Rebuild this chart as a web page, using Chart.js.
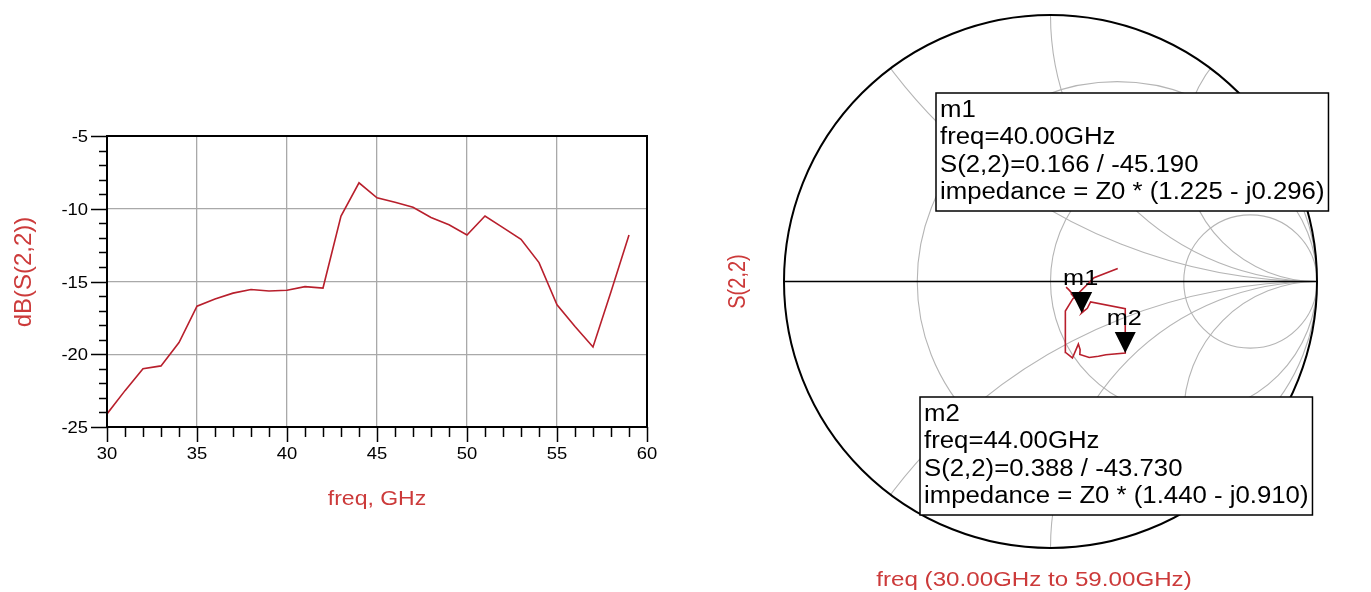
<!DOCTYPE html>
<html>
<head>
<meta charset="utf-8">
<script src="https://cdn.jsdelivr.net/npm/chart.js@4.4.1/dist/chart.umd.min.js"></script>
<style>
  html, body { margin: 0; padding: 0; background: #fff; }
  #wrap { position: relative; width: 1371px; height: 592px; overflow: hidden; background: #fff; }
  #dbChart { position: absolute; left: 0; top: 0; }
  #smithChart { position: absolute; left: 700px; top: 0; }
</style>
</head>
<body>
<div id="wrap">
  <canvas id="dbChart" width="700" height="592"></canvas>
  <canvas id="smithChart" width="671" height="592"></canvas>
</div>
<script>
// S(2,2) sweep, 30–59 GHz in 1 GHz steps
const freqGHz = [30, 31, 32, 33, 34, 35, 36, 37, 38, 39,
                 40, 41, 42, 43, 44, 45, 46, 47, 48, 49,
                 50, 51, 52, 53, 54, 55, 56, 57, 58, 59];
// magnitude in dB
const s22dB = [-24.1, -22.5, -21.0, -20.8, -19.2, -16.7, -16.2, -15.8, -15.55, -15.65,
               -15.6, -15.35, -15.45, -10.5, -8.22, -9.25, -9.55, -9.9, -10.6, -11.1,
               -11.8, -10.5, -11.3, -12.1, -13.7, -16.6, -18.1, -19.5, -15.7, -11.8];
// phase in degrees
const s22Deg = [-20, -24, -28, -31, -34, -37, -39, -41, -43, -44,
                -45.19, -36, -27, -20, -43.73, -52.9, -57.3, -63, -68.1, -66.5,
                -66, -74, -78, -77, -74.5, -68, -63, -38, 5, 11];

const xTickValues = [30, 35, 40, 45, 50, 55, 60];
const yTickValues = [-25, -20, -15, -10, -5];

// markers placed on the Smith trace
const markerNames = ['m1', 'm2'];
const markerFreq  = [40.00, 44.00];
const markerMag   = [0.166, 0.388];
const markerDeg   = [-45.190, -43.730];
const markerZre   = [1.225, 1.440];
const markerZim   = [-0.296, -0.910];

// Smith chart grid: constant-resistance circles and constant-reactance arcs
const rCircles = [1 / 3, 1, 3];
const xArcs = [0.5, 1, 2];

const FONT = '"Liberation Sans", Arial, Helvetica, sans-serif';
const RED_TEXT = '#cc3a3a';
const TRACE = '#b81f2c';

Chart.defaults.font.family = FONT;

function wideText(ctx, str, x, y, size, align, color, rotate, stretch) {
  ctx.save();
  ctx.font = size + 'px ' + FONT;
  ctx.fillStyle = color || '#000';
  ctx.textAlign = align || 'left';
  ctx.textBaseline = 'alphabetic';
  ctx.translate(x, y);
  ctx.scale(stretch || 1.15, 1);
  if (rotate) ctx.rotate(rotate);
  ctx.fillText(str, 0, 0);
  ctx.restore();
}

/* ---------- dB(S(2,2)) versus frequency ---------- */
const dbFrame = {
  id: 'dbFrame',
  afterDraw(chart) {
    const { ctx, chartArea: a, scales: { x, y } } = chart;
    ctx.save();
    ctx.strokeStyle = '#000';
    ctx.lineWidth = 2;
    ctx.strokeRect(a.left, a.top, a.right - a.left, a.bottom - a.top);

    ctx.lineWidth = 1.5;
    ctx.beginPath();
    for (let v = x.min; v <= x.max; v += 1) {
      const p = Math.round(x.getPixelForValue(v)) + 0.5;
      const len = xTickValues.includes(v) ? 15 : 10;
      ctx.moveTo(p, a.bottom);
      ctx.lineTo(p, a.bottom + len);
    }
    for (let v = y.min; v <= y.max; v += 1) {
      const p = Math.round(y.getPixelForValue(v)) + 0.5;
      const len = yTickValues.includes(v) ? 16 : 8;
      ctx.moveTo(a.left, p);
      ctx.lineTo(a.left - len, p);
    }
    ctx.stroke();
    ctx.restore();

    xTickValues.forEach(v => wideText(ctx, String(v), x.getPixelForValue(v), a.bottom + 32, 16, 'center'));
    yTickValues.forEach(v => wideText(ctx, String(v), a.left - 19, y.getPixelForValue(v) + 6, 16, 'right'));

    wideText(ctx, 'freq, GHz', (a.left + a.right) / 2, 505, 20, 'center', RED_TEXT);
    wideText(ctx, 'dB(S(2,2))', 31, 272, 24, 'center', RED_TEXT, -Math.PI / 2, 1.0);
  }
};

new Chart(document.getElementById('dbChart'), {
  type: 'line',
  data: {
    datasets: [{
      data: freqGHz.map((f, i) => ({ x: f, y: s22dB[i] })),
      borderColor: TRACE,
      borderWidth: 1.6,
      pointRadius: 0,
      tension: 0,
      fill: false
    }]
  },
  options: {
    responsive: false,
    animation: false,
    events: [],
    layout: { padding: { left: 107, top: 136, right: 53, bottom: 165 } },
    plugins: { legend: { display: false }, tooltip: { enabled: false } },
    scales: {
      x: {
        type: 'linear', min: 30, max: 60,
        afterBuildTicks: s => { s.ticks = xTickValues.map(v => ({ value: v })); },
        afterFit: s => { s.height = 0; },
        ticks: { display: false },
        grid: { color: '#a9a9a9', lineWidth: 1.3, drawTicks: false },
        border: { display: false }
      },
      y: {
        type: 'linear', min: -25, max: -5,
        afterBuildTicks: s => { s.ticks = yTickValues.map(v => ({ value: v })); },
        afterFit: s => { s.width = 0; },
        ticks: { display: false },
        grid: { color: '#a9a9a9', lineWidth: 1.3, drawTicks: false },
        border: { display: false }
      }
    }
  },
  plugins: [dbFrame]
});

/* ---------- Smith chart of S(2,2) ---------- */
const toRad = d => d * Math.PI / 180;
const smithPoints = freqGHz.map((f, i) => {
  const m = Math.pow(10, s22dB[i] / 20);
  return { x: m * Math.cos(toRad(s22Deg[i])), y: m * Math.sin(toRad(s22Deg[i])) };
});

const smithDecor = {
  id: 'smithDecor',
  beforeDatasetsDraw(chart) {
    const { ctx, scales: { x, y } } = chart;
    const px = v => x.getPixelForValue(v), py = v => y.getPixelForValue(v);
    const cx = px(0), cy = py(0), R = px(1) - px(0);
    ctx.save();
    ctx.beginPath();
    ctx.arc(cx, cy, R, 0, 2 * Math.PI);
    ctx.clip();
    ctx.strokeStyle = '#b5b5b5';
    ctx.lineWidth = 1.1;
    rCircles.forEach(r => {
      ctx.beginPath();
      ctx.arc(px(r / (r + 1)), cy, R / (r + 1), 0, 2 * Math.PI);
      ctx.stroke();
    });
    xArcs.forEach(xv => {
      [1, -1].forEach(s => {
        ctx.beginPath();
        ctx.arc(px(1), py(s / xv), R / xv, 0, 2 * Math.PI);
        ctx.stroke();
      });
    });
    ctx.restore();

    ctx.save();
    ctx.strokeStyle = '#000';
    ctx.lineWidth = 1.5;
    ctx.beginPath();
    ctx.moveTo(px(-1), cy);
    ctx.lineTo(px(1), cy);
    ctx.stroke();
    ctx.lineWidth = 2;
    ctx.beginPath();
    ctx.arc(cx, cy, R, 0, 2 * Math.PI);
    ctx.stroke();
    ctx.restore();
  },
  afterDatasetsDraw(chart) {
    const { ctx, scales: { x, y } } = chart;
    markerNames.forEach((name, i) => {
      const gx = markerMag[i] * Math.cos(toRad(markerDeg[i]));
      const gy = markerMag[i] * Math.sin(toRad(markerDeg[i]));
      const p = { x: x.getPixelForValue(gx), y: y.getPixelForValue(gy) };
      ctx.save();
      ctx.fillStyle = '#000';
      ctx.beginPath();
      ctx.moveTo(p.x, p.y);
      ctx.lineTo(p.x - 10.5, p.y - 21);
      ctx.lineTo(p.x + 10.5, p.y - 21);
      ctx.closePath();
      ctx.fill();
      ctx.restore();
      wideText(ctx, name, p.x - 1, p.y - 28, 22, 'center', '#000');
    });
  },
  afterDraw(chart) {
    const { ctx, chartArea: a } = chart;
    const boxes = [{ left: 236, top: 93 }, { left: 220, top: 397 }];
    const boxStretch = 1.12;
    markerNames.forEach((name, i) => {
      const zi = markerZim[i];
      const lines = [
        name,
        'freq=' + markerFreq[i].toFixed(2) + 'GHz',
        'S(2,2)=' + markerMag[i].toFixed(3) + ' / ' + markerDeg[i].toFixed(3),
        'impedance = Z0 * (' + markerZre[i].toFixed(3) + (zi < 0 ? ' - j' : ' + j') + Math.abs(zi).toFixed(3) + ')'
      ];
      ctx.save();
      ctx.font = '23px ' + FONT;
      const w = Math.max(...lines.map(t => ctx.measureText(t).width)) * boxStretch + 8;
      const b = boxes[i];
      ctx.fillStyle = '#fff';
      ctx.fillRect(b.left, b.top, w, 118);
      ctx.strokeStyle = '#000';
      ctx.lineWidth = 1.5;
      ctx.strokeRect(b.left, b.top, w, 118);
      ctx.restore();
      lines.forEach((t, k) => wideText(ctx, t, b.left + 4, b.top + 23.5 + k * 27.5, 23, 'left', '#000', 0, boxStretch));
    });
    wideText(ctx, 'freq (30.00GHz to 59.00GHz)', 334, 586, 21, 'center', RED_TEXT);
    wideText(ctx, 'S(2,2)', 45, (a.top + a.bottom) / 2, 20, 'center', RED_TEXT, -Math.PI / 2);
  }
};

new Chart(document.getElementById('smithChart'), {
  type: 'scatter',
  data: {
    datasets: [{
      data: smithPoints,
      showLine: true,
      borderColor: TRACE,
      borderWidth: 1.6,
      pointRadius: 0,
      tension: 0
    }]
  },
  options: {
    responsive: false,
    animation: false,
    events: [],
    layout: { padding: { left: 84, top: 15, right: 54, bottom: 44 } },
    plugins: { legend: { display: false }, tooltip: { enabled: false } },
    scales: {
      x: { type: 'linear', min: -1, max: 1, display: false },
      y: { type: 'linear', min: -1, max: 1, display: false }
    }
  },
  plugins: [smithDecor]
});
</script>
</body>
</html>
